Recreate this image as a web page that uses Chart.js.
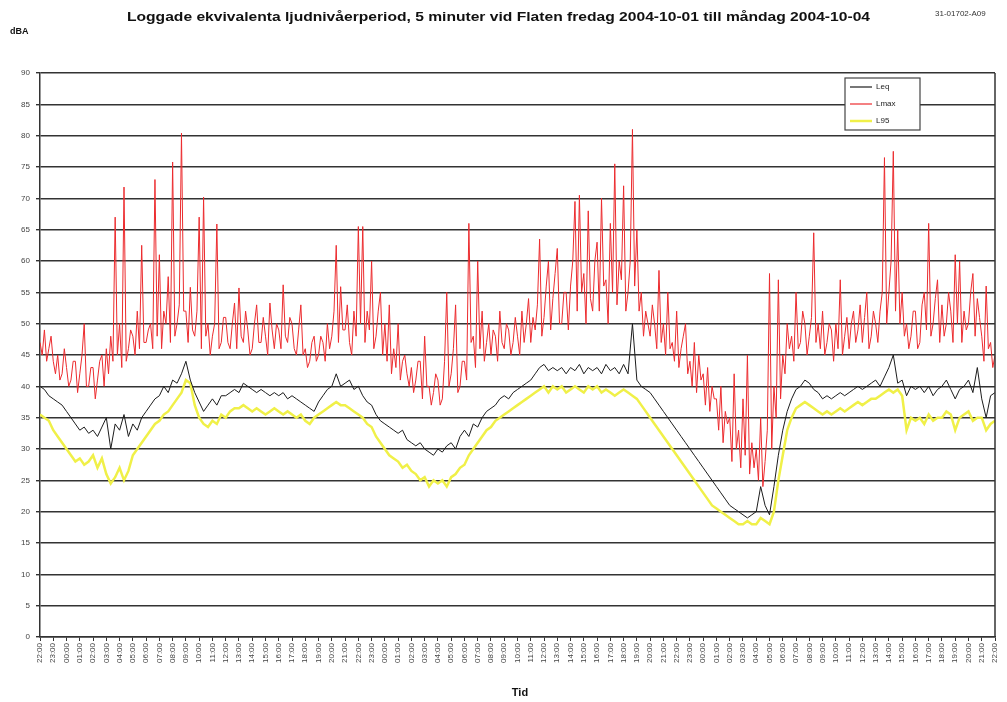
<!DOCTYPE html>
<html>
<head>
<meta charset="utf-8">
<title>Ljudnivå Flaten</title>
<script src="https://cdn.jsdelivr.net/npm/chart.js@4.4.1/dist/chart.umd.min.js"></script>
<style>
  html, body { margin: 0; padding: 0; background: #fff; }
  #wrap { position: relative; width: 1007px; height: 702px; }
</style>
</head>
<body>
<div id="wrap"><canvas id="noiseChart"></canvas></div>
<script>
const titleText = 'Loggade ekvivalenta ljudnivåerperiod, 5 minuter vid Flaten fredag 2004-10-01 till måndag 2004-10-04';
const docCode = '31-01702-A09';

// one label per hour, fredag 22:00 -> måndag 22:00
const hourLabels = [
  '22:00','23:00',
  '00:00','01:00','02:00','03:00','04:00','05:00','06:00','07:00','08:00','09:00','10:00','11:00',
  '12:00','13:00','14:00','15:00','16:00','17:00','18:00','19:00','20:00','21:00','22:00','23:00',
  '00:00','01:00','02:00','03:00','04:00','05:00','06:00','07:00','08:00','09:00','10:00','11:00',
  '12:00','13:00','14:00','15:00','16:00','17:00','18:00','19:00','20:00','21:00','22:00','23:00',
  '00:00','01:00','02:00','03:00','04:00','05:00','06:00','07:00','08:00','09:00','10:00','11:00',
  '12:00','13:00','14:00','15:00','16:00','17:00','18:00','19:00','20:00','21:00','22:00'
];

// values
// Leq and L95: 3 per hour (20 min), Lmax: 6 per hour (10 min)
const leqPerHour = 3;
const lmaxPerHour = 6;
const l95PerHour = 3;

const leq = [
  40,39.5,38.5, 38,37.5,37, 36,35,34, 33,33.5,32.5, 33,32,33.5, 35,30,34,
  33,35.5,32, 34,33,35, 36,37,38, 38.5,40,39, 41,40.5,42, 44,41,39,
  37.5,36,37, 38,37,38.5, 38.5,39,39.5, 39,40.5,40, 39.5,39,39.5, 39,38.5,39,
  38.5,39,38, 38.5,38,37.5, 37,36.5,36, 37.5,38.5,39.5, 40,42,40, 40.5,41,39.5,
  40,38.5,37.5, 37,35.5,34.5, 34,33.5,33, 32.5,33,31.5, 31,30.5,31, 30,29.5,29,
  30,29.5,30.5, 31,30,32, 33,32,34, 33.5,35,36, 36.5,37,38, 38.5,38,39,
  39.5,40,40.5, 41,42,43, 43.5,42.5,43, 42.5,43,42, 43,42.5,43.5, 42,43,42.5,
  43,42,43.5, 42.5,43,42, 43.5,42,50, 41,40,39.5, 39,38,37, 36,35,34,
  33,32,31, 30,29,28, 27,26,25, 24,23,22, 21,20.5,20, 19.5,19,19.5,
  20,24,21, 19.5,24,29, 33,36,38, 39.5,40,41, 40.5,39.5,39, 38,38.5,38,
  38.5,39,38.5, 39,39.5,40, 39.5,40,40.5, 41,40,41.5, 43,45,40.5, 41,38.5,40,
  39.5,40,39, 40,38.5,39.5, 40,41,39.5, 38,39.5,40, 41,39,43, 38,35,38.5,
  39
];

const lmax = [
  47,45,49,44,46,48, 44,42,45,41,42,46, 43,40,41,44,44,39, 42,45,50,40,40,43,
  43,38,41,44,45,40, 46,42,48,44,67,45, 50,43,71.8,44,46,49, 48,45,52,46,62.5,47,
  47,49,50,46,73,48, 61,46,52,50,57.5,47, 75.8,48,50,53,80.4,52, 52,47,55.8,49,48,52,
  67,46,70.2,48,50,45, 48,50,65.9,46,47,51, 51,47,46,50,53.3,46, 55.7,48,47,52,49,45,
  46,50,53,47,47,51, 48,45,53.3,49,46,50, 49,46,56.2,48,47,51, 50,46,45,49,53,45,
  46,43,44,47,48,44, 45,48,47,44,50,46, 48,52,62.5,47,55.9,49, 49,53,47,45,52,48,
  65.5,50,65.5,47,52,49, 60,46,48,52,55,45, 50,44,53,42,46,43, 50,41,44,45,42,40,
  43,39,41,44,44,38, 48,40,40,37,39,42, 41,37,38,44,55,40, 42,46,53,39,40,44,
  44,41,66,47,48,43, 60,46,52,44,47,50, 45,49,48,44,52,47, 46,50,49,45,47,51,
  48,45,52,47,50,54, 47,51,49,53,63.5,48, 51,56,60,49,54,58, 62,50,50,55,55,49,
  56,60,69.5,52,70.5,55, 58,50,68,54,52,60, 63,52,70,56,57,50, 66,55,75.5,53,60,57,
  72,52,55,60,81,56, 65,52,55,48,52,50, 48,53,50,46,58.5,47, 50,45,55,46,47,44,
  52,43,46,48,50,42, 44,40,47,39,45,41, 42,37,43,36,40,38, 38,33,40,31,36,34,
  35,28,42,30,33,27, 38,29,45,26,31,27, 30,25,35,24,28,33, 58,30,40,35,57,38,
  45,42,50,46,48,44, 55,46,47,52,50,45, 48,51,64.5,47,50,46, 52,45,47,50,49,44,
  50,46,57,45,48,51, 46,50,52,47,49,53, 47,51,55,46,48,52, 50,47,52,55,76.5,50,
  55,60,77.5,52,65,50, 55,48,50,46,48,52, 52,46,47,53,55,49, 66,48,50,54,57,47,
  53,48,50,55,52,47, 61,50,60,47,52,49, 50,55,58,48,54,51, 48,44,56,46,47,43,
  45
];

const l95 = [
  35.5,35,34.5, 33,32,31, 30,29,28, 28.5,27.5,28, 29,27,28.5, 26,24.5,25.5,
  27,25,26.5, 29,30,31, 32,33,34, 34.5,35.5,36, 37,38,39, 41,40.5,37,
  35,34,33.5, 34.5,34,35.5, 35,36,36.5, 36.5,37,36.5, 36,36.5,36, 35.5,36,36.5,
  36,35.5,36, 35.5,35,35.5, 34.5,34,35, 35.5,36,36.5, 37,37.5,37, 37,36.5,36,
  35.5,35,34, 33.5,32,31, 30,29,28.5, 28,27,27.5, 26.5,26,25, 25.5,24,25,
  24.5,25,24, 25.5,26,27, 27.5,29,30, 31,32,33, 33.5,34.5,35, 35.5,36,36.5,
  37,37.5,38, 38.5,39,39.5, 40,39,40, 39.5,40,39, 39.5,40,39.5, 39,40,39.5,
  40,39,39.5, 39,38.5,39, 39.5,39,38.5, 38,37,36, 35,34,33, 32,31,30,
  29,28,27, 26,25,24, 23,22,21, 20.5,20,19.5, 19,18.5,18, 18,18.5,18,
  18,19,18.5, 18,20,25, 29,33,35, 36.5,37,37.5, 37,36.5,36, 35.5,36,35.5,
  36,36.5,36, 36.5,37,37.5, 37,37.5,38, 38,38.5,39, 39.5,39,39.5, 38.5,33,35,
  34.5,35,34, 35.5,34.5,35, 35,36,35.5, 33,35,35.5, 36,34.5,35, 35,33,34,
  34.5
];

const seriesNames = ['Leq', 'Lmax', 'L95'];
const seriesColors = ['#1c1c1c', '#ec2b2e', '#f0f048'];

function toPoints(values, perHour) {
  return values.map((v, i) => ({ x: i / perHour, y: v }));
}

const fontName = '"Liberation Sans", Arial, sans-serif';

const extras = {
  id: 'extras',
  afterDraw(chart) {
    const c = chart.ctx;
    const a = chart.chartArea;
    c.save();

    // right edge of plot
    c.strokeStyle = '#333';
    c.lineWidth = 1.5;
    c.beginPath();
    c.moveTo(a.right, a.top);
    c.lineTo(a.right, a.bottom);
    c.stroke();

    // title, squeezed to the width it has in the original
    c.fillStyle = '#111';
    c.textBaseline = 'middle';
    c.textAlign = 'left';
    c.font = 'bold 12px ' + fontName;
    const tw = c.measureText(titleText).width;
    c.save();
    c.translate(127, 18);
    c.scale(743 / tw, 1);
    c.fillText(titleText, 0, 0);
    c.restore();

    c.font = 'bold 9px ' + fontName;
    c.fillText('dBA', 10, 32);

    c.font = '8px ' + fontName;
    c.fillStyle = '#333';
    c.fillText(docCode, 935, 14);

    c.font = 'bold 11px ' + fontName;
    c.fillStyle = '#111';
    c.textAlign = 'center';
    c.fillText('Tid', 520, 693);

    // legend box
    const lx = 845, ly = 78, lw = 75, lh = 52;
    c.fillStyle = '#fff';
    c.fillRect(lx, ly, lw, lh);
    c.strokeStyle = '#444';
    c.lineWidth = 1.2;
    c.strokeRect(lx, ly, lw, lh);
    c.textAlign = 'left';
    c.font = '8px ' + fontName;
    seriesNames.forEach((name, i) => {
      const y = ly + 9 + i * 17;
      c.strokeStyle = seriesColors[i];
      c.lineWidth = i === 2 ? 2.5 : 1.2;
      c.beginPath();
      c.moveTo(lx + 5, y);
      c.lineTo(lx + 27, y);
      c.stroke();
      c.fillStyle = '#222';
      c.fillText(name, lx + 31, y);
    });

    c.restore();
  }
};

const ctx = document.getElementById('noiseChart').getContext('2d');

const noiseChart = new Chart(ctx, {
  type: 'line',
  data: {
    datasets: [
      {
        label: seriesNames[0],
        data: toPoints(leq, leqPerHour),
        borderColor: seriesColors[0],
        borderWidth: 1,
        order: 0
      },
      {
        label: seriesNames[1],
        data: toPoints(lmax, lmaxPerHour),
        borderColor: seriesColors[1],
        borderWidth: 1,
        order: 1
      },
      {
        label: seriesNames[2],
        data: toPoints(l95, l95PerHour),
        borderColor: seriesColors[2],
        borderWidth: 2.5,
        order: 2
      }
    ]
  },
  options: {
    responsive: true,
    maintainAspectRatio: false,
    animation: false,
    elements: { point: { radius: 0 }, line: { tension: 0 } },
    layout: { padding: { top: 73, right: 12, left: 0, bottom: 0 } },
    plugins: {
      legend: { display: false },
      tooltip: { enabled: false }
    },
    scales: {
      x: {
        type: 'linear',
        min: 0,
        max: hourLabels.length - 1,
        afterFit: (scale) => { scale.height = 65; },
        border: { color: '#333', width: 1.5 },
        grid: { drawOnChartArea: false, drawTicks: true, tickLength: 4, color: '#333' },
        ticks: {
          stepSize: 1,
          autoSkip: false,
          maxRotation: 90,
          minRotation: 90,
          padding: 2,
          color: '#444',
          font: { size: 8, family: fontName },
          callback: (v) => hourLabels[v]
        }
      },
      y: {
        min: 0,
        max: 90,
        afterFit: (scale) => { scale.width = 40; },
        border: { color: '#333', width: 1.5 },
        grid: { color: '#333', lineWidth: 1.4, tickLength: 4 },
        ticks: {
          stepSize: 5,
          padding: 6,
          color: '#444',
          font: { size: 8, family: fontName }
        }
      }
    }
  },
  plugins: [extras]
});
</script>
</body>
</html>
